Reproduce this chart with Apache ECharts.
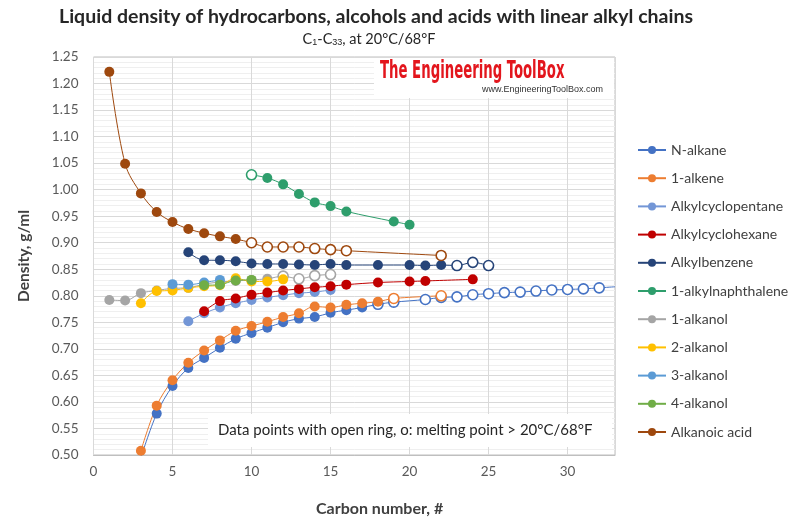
<!DOCTYPE html>
<html>
<head>
<meta charset="utf-8">
<script src="https://cdn.jsdelivr.net/npm/echarts@6/dist/echarts.min.js"></script>
<style>
  html, body { margin: 0; padding: 0; background: #fff; }
  #echartsMain { width: 803px; height: 525px; }
</style>
</head>
<body>
<div id="echartsMain"></div>
<script>
// data: [carbon number, density g/ml]
var seriesNames = ['N-alkane', '1-alkene', 'Alkylcyclopentane', 'Alkylcyclohexane', 'Alkylbenzene',
  '1-alkylnaphthalene', '1-alkanol', '2-alkanol', '3-alkanol', '4-alkanol', 'Alkanoic acid'];

var nAlkane = [[3,0.495],[4,0.578],[5,0.630],[6,0.664],[7,0.683],[8,0.702],[9,0.719],[10,0.730],[11,0.740],
  [12,0.750],[13,0.757],[14,0.760],[15,0.768],[16,0.773],[17,0.778],[18,0.784],[19,0.788],[21,0.793],
  [22,0.797],[23,0.798],[24,0.802],[25,0.804],[26,0.806],[27,0.807],[28,0.809],[29,0.811],[30,0.812],
  [31,0.813],[32,0.815],[33,0.817]];
var alkene = [[3,0.508],[4,0.593],[5,0.641],[6,0.674],[7,0.697],[8,0.716],[9,0.734],[10,0.743],[11,0.751],
  [12,0.760],[13,0.767],[14,0.780],[15,0.778],[16,0.783],[17,0.786],[18,0.789],[19,0.795],[22,0.800]];
var cyclopentane = [[6,0.752],[7,0.767],[8,0.778],[9,0.786],[10,0.792],[11,0.797],[12,0.801],[13,0.805],
  [14,0.807],[15,0.811]];
var cyclohexane = [[7,0.771],[8,0.790],[9,0.795],[10,0.802],[11,0.806],[12,0.810],[13,0.813],[14,0.816],
  [15,0.818],[16,0.821],[18,0.825],[20,0.827],[21,0.828],[24,0.831]];
var benzene = [[6,0.882],[7,0.867],[8,0.867],[9,0.865],[10,0.861],[11,0.860],[12,0.860],[13,0.859],[14,0.858],
  [15,0.860],[16,0.858],[18,0.858],[20,0.858],[21,0.857],[22,0.858],[23,0.857],[24,0.863],[25,0.857]];
var naphthalene = [[10,1.028],[11,1.022],[12,1.010],[13,0.992],[14,0.976],[15,0.969],[16,0.959],[19,0.940],[20,0.934]];
var alkanol1 = [[1,0.792],[2,0.791],[3,0.805],[4,0.810],[5,0.814],[6,0.815],[7,0.822],[8,0.826],[9,0.828],
  [10,0.830],[11,0.832],[12,0.837],[13,0.832],[14,0.838],[15,0.840]];
var alkanol2 = [[3,0.786],[4,0.809],[5,0.810],[6,0.815],[7,0.818],[8,0.820],[9,0.833],[10,0.827],[11,0.827],[12,0.831]];
var alkanol3 = [[5,0.822],[6,0.821],[7,0.825],[8,0.830]];
var alkanol4 = [[7,0.820],[8,0.821],[9,0.829],[10,0.830]];
var acid = [[1,1.222],[2,1.049],[3,0.993],[4,0.958],[5,0.939],[6,0.926],[7,0.918],[8,0.912],[9,0.907],[10,0.900],
  [11,0.892],[12,0.892],[13,0.892],[14,0.889],[15,0.887],[16,0.885],[22,0.876]];

// carbon numbers drawn as open rings (melting point above 20 °C)
var nAlkaneOpen = [18,19,21,22,23,24,25,26,27,28,29,30,31,32];
var alkeneOpen = [19,22];
var benzeneOpen = [23,24,25];
var naphthaleneOpen = [10];
var alkanol1Open = [12,13,14,15];
var acidOpen = [10,11,12,13,14,15,16,22];
// points at the plot edge, line only
var noMarker = [33];

var colors = ['#4472C4', '#ED7D31', '#7396D6', '#C00000', '#264478', '#2E9E6C',
  '#A5A5A5', '#FFC000', '#5B9BD5', '#70AD47', '#9E480E'];

var allData = [nAlkane, alkene, cyclopentane, cyclohexane, benzene, naphthalene,
  alkanol1, alkanol2, alkanol3, alkanol4, acid];
var allOpen = [nAlkaneOpen, alkeneOpen, [], [], benzeneOpen, naphthaleneOpen,
  alkanol1Open, [], [], [], acidOpen];

var FONT = 'Lato, "Open Sans", sans-serif';

function buildSeries(i) {
  var c = colors[i];
  var data = allData[i].map(function (p) {
    var item = { value: p };
    if (allOpen[i].indexOf(p[0]) >= 0) {
      item.itemStyle = { color: '#fff', borderColor: c, borderWidth: 1.6 };
    }
    if (i === 0 && noMarker.indexOf(p[0]) >= 0) {
      item.symbolSize = 0;
    }
    return item;
  });
  return {
    name: seriesNames[i],
    type: 'line',
    data: data,
    smooth: 0.35,
    symbol: 'circle',
    symbolSize: 10,
    showAllSymbol: true,
    clip: true,
    itemStyle: { color: c },
    lineStyle: { color: c, width: 1 },
    emphasis: { disabled: true },
    animation: false
  };
}

var myChart = echarts.init(document.getElementById('echartsMain'));

var option = {
  backgroundColor: '#fff',
  animation: false,
  color: colors,
  grid: { left: 93.5, right: 188, top: 57, bottom: 70, show: true, borderColor: '#BFBFBF', borderWidth: 1 },
  legend: {
    orient: 'vertical',
    left: 632,
    top: 138,
    itemWidth: 28,
    itemHeight: 10,
    itemGap: 14.2,
    data: seriesNames,
    textStyle: { fontFamily: FONT, fontSize: 14, color: '#404040' }
  },
  xAxis: {
    type: 'value',
    min: 0,
    max: 33,
    interval: 5,
    axisLine: { show: true, lineStyle: { color: '#BFBFBF' } },
    axisTick: { show: false },
    axisLabel: { fontFamily: FONT, fontSize: 13.5, color: '#595959', margin: 10, showMaxLabel: false },
    splitLine: { show: true, lineStyle: { color: '#D9D9D9' } }
  },
  yAxis: {
    type: 'value',
    min: 0.5,
    max: 1.25,
    interval: 0.05,
    name: 'Density, g/ml',
    nameLocation: 'middle',
    nameGap: 62,
    nameTextStyle: { fontFamily: FONT, fontSize: 15.5, fontWeight: 'bold', color: '#404040' },
    axisLine: { show: false },
    axisTick: { show: false },
    axisLabel: { fontFamily: FONT, fontSize: 13.5, color: '#595959', margin: 15,
      formatter: function (v) { return v.toFixed(2); } },
    splitLine: { show: true, lineStyle: { color: '#D9D9D9' } },
    minorTick: { show: false, splitNumber: 5 },
    minorSplitLine: { show: true, lineStyle: { color: '#EFEFEF' } }
  },
  graphic: [
    {
      type: 'text', x: 376, y: 7,
      style: {
        text: 'Liquid density of hydrocarbons, alcohols and acids with linear alkyl chains',
        align: 'center', fontFamily: FONT, fontSize: 19.5, fontWeight: 'bold', fill: '#262626'
      }
    },
    {
      type: 'text', x: 369, y: 31,
      style: {
        text: 'C{s|1}-C{s|33}, at 20°C/68°F', align: 'center',
        fontFamily: FONT, fontSize: 14.5, fill: '#262626',
        rich: { s: { fontSize: 9, verticalAlign: 'bottom', padding: [7, 0, 0, 0], fill: '#262626' } }
      }
    },
    {
      type: 'text', x: 316, y: 501,
      style: { text: 'Carbon number, #', fontFamily: FONT, fontSize: 16, fontWeight: 'bold', fill: '#404040' }
    },
    {
      type: 'rect', shape: { x: 374, y: 58, width: 240, height: 40 },
      style: { fill: '#fff' }, z: 10
    },
    {
      type: 'text', x: 380, y: 59, z: 11, scaleX: 0.59,
      style: { text: 'The Engineering ToolBox', fontFamily: '"DejaVu Sans Condensed", "Liberation Sans", sans-serif',
        fontSize: 25, fontWeight: 'bold', fill: '#E3161D' }
    },
    {
      type: 'text', x: 482, y: 85, z: 11,
      style: { text: 'www.EngineeringToolBox.com', fontFamily: '"Liberation Sans", Arial, sans-serif',
        fontSize: 9, fill: '#333' }
    },
    {
      type: 'rect', shape: { x: 208, y: 414, width: 404, height: 33 },
      style: { fill: '#fff' }, z: 10
    },
    {
      type: 'text', x: 218, y: 423, z: 11,
      style: { text: 'Data points with open ring, o: melting point > 20°C/68°F', fontFamily: FONT,
        fontSize: 15, fill: '#262626' }
    }
  ],
  series: allData.map(function (d, i) { return buildSeries(i); })
};

myChart.setOption(option);
</script>
</body>
</html>
